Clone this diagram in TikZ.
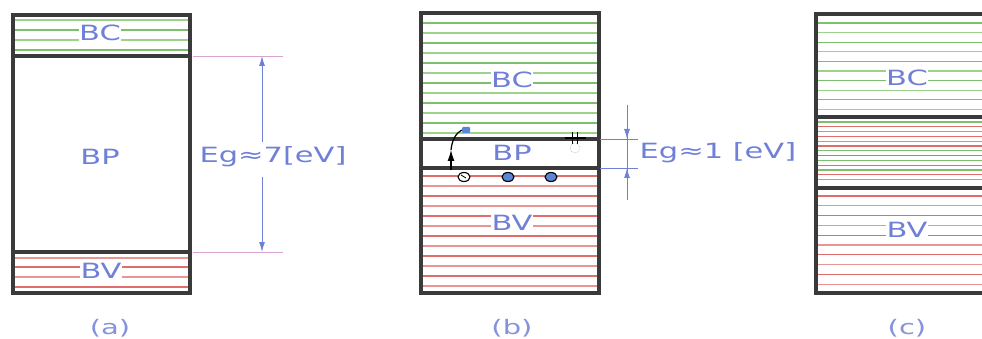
\documentclass[tikz,border=0pt]{standalone}
\usepackage{fontspec}
\setmainfont{DejaVu Sans}
\usetikzlibrary{arrows.meta,shapes.geometric}
\definecolor{txt}{HTML}{7080D8}
\definecolor{frm}{HTML}{3A3A3A}
\definecolor{grn}{HTML}{7CC06C}
\definecolor{grnl}{HTML}{9CD28C}
\definecolor{rd}{HTML}{E06C6C}
\definecolor{rdl}{HTML}{EA9494}
\definecolor{pnk}{HTML}{D8A4D4}
\definecolor{elec}{HTML}{5B86D8}
\newcommand{\wtxt}[1]{\scalebox{1.45}[1]{#1}}
\tikzset{
  lbl/.style={text=txt, font=\fontsize{21}{21}\selectfont, fill=white, inner sep=0.5pt},
  sublbl/.style={text=txt!85, font=\fontsize{20}{20}\selectfont, inner sep=0pt},
  frame/.style={draw=frm, line width=3.6pt},
  gline/.style={draw=grn, line width=1.2pt},
  glinel/.style={draw=grnl, line width=1.2pt},
  rline/.style={draw=rd, line width=1.2pt},
  rlinel/.style={draw=rdl, line width=1.2pt},
  extline/.style={draw=pnk, line width=0.9pt},
  extlineb/.style={draw=txt, line width=0.9pt},
  dimline/.style={draw=txt, line width=1pt},
  dimtip/.style={dimline, -{Latex[length=10pt,width=6pt]}},
  carrier/.style={ellipse, minimum width=12pt, minimum height=9pt, inner sep=0pt, draw=black, line width=1.1pt},
}
\begin{document}
\begin{tikzpicture}[x=1pt,y=-1pt]
\useasboundingbox (0,0) rectangle (982,339);
\fill[white] (0,0) rectangle (982,339);
\begin{scope}
\clip (0,0) rectangle (982,339);

% ---------------- panel (a) ----------------
\foreach \y in {20,40} \draw[glinel] (15,\y) -- (188,\y);
\foreach \y in {30,50} \draw[gline] (15,\y) -- (188,\y);
\foreach \y in {258,277} \draw[rlinel] (15,\y) -- (188,\y);
\foreach \y in {267,287} \draw[rline] (15,\y) -- (188,\y);
\node[lbl] (abc) at (100,33) {\wtxt{BC}};
\node[lbl] (abp) at (100,157) {\wtxt{BP}};
\node[lbl] (abv) at (101,271) {\wtxt{BV}};
\draw[frame] (13,15) rectangle (190,293);
\draw[frame] (13,56) -- (190,56);
\draw[frame] (13,252) -- (190,252);
% dimension (a)
\coordinate (ae1) at (193,56);  \coordinate (ae2) at (283,56);
\coordinate (ae3) at (193,252); \coordinate (ae4) at (283,252);
\draw[extline] (ae1) -- (ae2);
\draw[extline] (ae3) -- (ae4);
\node[lbl, fill=none] (aeg) at (273,157) {\wtxt{Eg≈7[eV]}};
\coordinate (at1) at (262,56);  \coordinate (ab1) at (262,142);
\coordinate (at2) at (262,177); \coordinate (ab2) at (262,252);
\draw[dimtip] (ab1) -- (at1);
\draw[dimtip] (at2) -- (ab2);
\node[sublbl] (alab) at (110,328) {\wtxt{(a)}};

% ---------------- panel (b) ----------------
\foreach \y in {23,43,...,123} \draw[gline] (423,\y) -- (597,\y);
\foreach \y in {33,53,...,133} \draw[glinel] (423,\y) -- (597,\y);
\foreach \y in {176,196,...,276} \draw[rline] (423,\y) -- (597,\y);
\foreach \y in {186,206,...,286} \draw[rlinel] (423,\y) -- (597,\y);
\node[lbl] (bbc) at (512,80) {\wtxt{BC}};
\node[lbl] (bbp) at (512,153) {\wtxt{BP}};
\node[lbl] (bbv) at (512,223) {\wtxt{BV}};
\draw[frame] (421,13) rectangle (599,293);
\draw[frame] (421,139) -- (599,139);
\draw[frame] (421,168) -- (599,168);
% carriers
\node[carrier, fill=white] (hole) at (464,177) {};
\draw[line width=0.8pt] (hole.center) ++(-3,-2) -- ++(5,3);
\node[carrier, fill=elec] (e1) at (508,177) {};
\node[carrier, fill=elec] (e2) at (551,177) {};
\node[rectangle, rounded corners=1pt, fill=elec, minimum width=8pt, minimum height=6pt, inner sep=0pt] (e0) at (466,130) {};
\coordinate (arrA) at (451,170);
\coordinate (arrB) at (451,150);
\draw[line width=1.2pt, -{Latex[length=11pt,width=7pt]}] (arrA) -- (arrB);
\draw[line width=1.2pt] (arrB) .. controls (452,140) and (456,133) .. (e0.west);
% level symbol
\draw[line width=1.3pt] (565,138) -- (586,138);
\draw[line width=1pt] (572,132) -- (572,144);
\draw[line width=1pt] (577,132) -- (577,144);
\draw[gray!60, densely dotted, line width=0.6pt] (575,148) circle (5);
% dimension (b)
\coordinate (be1) at (600,139); \coordinate (be2) at (638,139);
\coordinate (be3) at (600,168); \coordinate (be4) at (638,168);
\draw[extlineb] (be1) -- (be2);
\draw[extlineb] (be3) -- (be4);
\coordinate (bt0) at (627,105); \coordinate (bt1) at (627,139);
\coordinate (bb0) at (627,200); \coordinate (bb1) at (627,168);
\draw[dimline] (bt0) -- (bb0);
\draw[dimtip] (bt0) -- (bt1);
\draw[dimtip] (bb0) -- (bb1);
\node[lbl, fill=none, anchor=west] (beg) at (639,153) {\wtxt{Eg≈1 [eV]}};
\node[sublbl] (blab) at (512,328) {\wtxt{(b)}};

% ---------------- panel (c) ----------------
\foreach \y in {23,42.2,...,100} \draw[gline] (818,\y) -- (990,\y);
\foreach \y in {32.6,51.8,...,110} \draw[glinel] (818,\y) -- (990,\y);
\foreach \y in {122,131.6,...,184} \draw[gline] (818,\y) -- (990,\y);
\foreach \y in {126.8,136.4,...,184} \draw[rline] (818,\y) -- (990,\y);
\foreach \y in {196,215.6,...,290} \draw[rline] (818,\y) -- (990,\y);
\foreach \y in {205.8,225.4,...,290} \draw[rlinel] (818,\y) -- (990,\y);
\node[lbl] (cbc) at (907,78) {\wtxt{BC}};
\node[lbl] (cbv) at (907,230) {\wtxt{BV}};
\draw[frame] (816,14) rectangle (995,293);
\draw[frame] (816,117) -- (995,117);
\draw[frame] (816,188) -- (995,188);
\node[sublbl] (clab) at (907,328) {\wtxt{(c)}};
\end{scope}
\end{tikzpicture}
\end{document}
